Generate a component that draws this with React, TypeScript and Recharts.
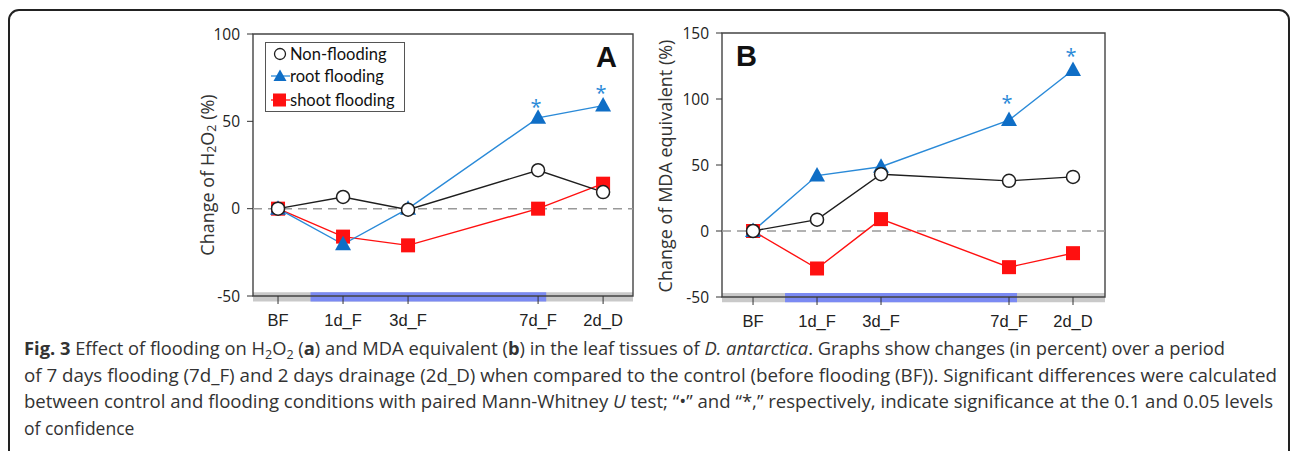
import React from 'react'
import { ComposedChart, Line, XAxis, YAxis, ReferenceLine, ReferenceArea, Legend } from 'recharts'

// sampling stages and their position on the day axis
const stages = ['BF', '1d_F', '3d_F', '7d_F', '2d_D']
const stagePos = [-1, 1, 3, 7, 9]

// panel A: change of H2O2 (%)
const h2o2Non = [0, 6.7, -0.6, 22, 9.5]
const h2o2Root = [0, -20.4, 0, 52, 59]
const h2o2Shoot = [0, -16, -21, 0, 14.3]
const h2o2Star = [null, null, null, 60, 68]
const h2o2Ticks = [-50, 0, 50, 100]

// panel B: change of MDA equivalent (%)
const mdaNon = [0, 8.6, 43, 38, 41]
const mdaRoot = [0, 42, 48.7, 84, 122]
const mdaShoot = [0, -28.4, 9, -27.4, -16.8]
const mdaStar = [null, null, null, 99, 135]
const mdaTicks = [-50, 0, 50, 100, 150]

// flooding period (blue band on the x axis)
const floodSpan = [0, 7.25]

const seriesNames = ['Non-flooding', 'root flooding', 'shoot flooding']

const BLACK = '#1e1e1e'
const BLUE_LINE = '#2a8ad8'
const BLUE = '#0f6ec6'
const RED = '#ff1010'

const makeRows = (non, root, shoot, star) =>
  stagePos.map((x, i) => ({ x, stage: stages[i], non: non[i], root: root[i], shoot: shoot[i], star: star[i] }))

const h2o2Rows = makeRows(h2o2Non, h2o2Root, h2o2Shoot, h2o2Star)
const mdaRows = makeRows(mdaNon, mdaRoot, mdaShoot, mdaStar)

const stageLabel = (v) => stages[stagePos.indexOf(v)] ?? ''

const CircleDot = (p) =>
  p.cy == null ? <g key={`c${p.index}`} /> : (
    <circle key={`c${p.index}`} cx={p.cx} cy={p.cy} r={6.5} fill="#fff" stroke={BLACK} strokeWidth={1.5} />
  )

const TriDot = (p) =>
  p.cy == null ? <g key={`t${p.index}`} /> : (
    <path key={`t${p.index}`} d={`M${p.cx},${p.cy - 8.5} L${p.cx + 8},${p.cy + 6} L${p.cx - 8},${p.cy + 6} Z`} fill={BLUE} />
  )

const SquareDot = (p) =>
  p.cy == null ? <g key={`s${p.index}`} /> : (
    <rect key={`s${p.index}`} x={p.cx - 7} y={p.cy - 7} width={14} height={14} fill={RED} />
  )

const StarDot = (p) =>
  p.cy == null ? <g key={`a${p.index}`} /> : (
    <text key={`a${p.index}`} x={p.cx - 2} y={p.cy + 10} textAnchor="middle" fontSize={20} fontFamily="Open Sans" fill={BLUE_LINE}>*</text>
  )

// x tick: stage name under the day position
const StageTick = ({ x, y, payload }) => (
  <text x={x} y={y + 18} textAnchor="middle" fontFamily="Liberation Sans" fontSize={16.5} fill="#222">
    {stageLabel(payload.value)}
  </text>
)

const ValueTick = ({ x, y, payload }) => (
  <text x={x} y={y + 5.5} textAnchor="end" fontFamily="Open Sans" fontSize={15.5} fill="#222">
    {payload.value}
  </text>
)

const LegendBox = () => {
  const icons = [
    <circle cx={12} cy={8} r={5.5} fill="#fff" stroke={BLACK} strokeWidth={1.3} />,
    <g>
      <line x1={3} x2={22} y1={8} y2={8} stroke={BLUE_LINE} strokeWidth={1.3} />
      <path d="M12,1.5 L18.5,13 L5.5,13 Z" fill={BLUE} />
    </g>,
    <g>
      <line x1={3} x2={22} y1={8} y2={8} stroke={RED} strokeWidth={1.3} />
      <rect x={5} y={1.5} width={13} height={13} fill={RED} />
    </g>,
  ]
  const rowY = [11, 33, 57]
  return (
    <div style={{ position: 'relative', width: 140, height: 70, boxSizing: 'border-box', border: '1.5px solid #555', background: '#fff' }}>
      {seriesNames.map((n, i) => (
        <div key={n} style={{ position: 'absolute', left: 2, top: rowY[i] - 10, height: 20, display: 'flex', alignItems: 'center' }}>
          <svg width={22} height={16} style={{ overflow: 'visible' }}>{icons[i]}</svg>
          <span style={{ fontFamily: 'Lato', fontSize: 16.5, color: '#111', whiteSpace: 'nowrap' }}>{n}</span>
        </div>
      ))}
    </div>
  )
}

function Panel({ rows, xDomain, yDomain, yTicks, bandY, width, margin, left, yLabel, legend }) {
  return (
    <div style={{ position: 'absolute', left, top: 20 }}>
      <ComposedChart width={width} height={330} data={rows} margin={margin}>
        <XAxis
          dataKey="x"
          type="number"
          domain={xDomain}
          ticks={stagePos}
          axisLine={false}
          tickSize={8}
          tickMargin={4}
          height={30}
          stroke="#333"
          tick={StageTick}
          interval={0}
        />
        <YAxis
          type="number"
          domain={yDomain}
          ticks={yTicks}
          axisLine={false}
          tickSize={6}
          tickMargin={7}
          width={40}
          stroke="#333"
          tick={ValueTick}
          interval={0}
          label={{ content: () => yLabel }}
        />
        <ReferenceArea x1={xDomain[0]} x2={xDomain[1]} y1={bandY[0]} y2={bandY[1]} fill="#c9c9c9" fillOpacity={1} stroke="none" ifOverflow="visible" />
        <ReferenceArea x1={floodSpan[0]} x2={floodSpan[1]} y1={bandY[0]} y2={bandY[1]} fill="#7484f6" fillOpacity={0.92} stroke="none" ifOverflow="visible" />
        <ReferenceArea x1={xDomain[0]} x2={xDomain[1]} y1={yDomain[0]} y2={yDomain[1]} fill="none" fillOpacity={0} stroke="#444" strokeWidth={1.4} ifOverflow="visible" />
        <ReferenceLine y={0} stroke="#999" strokeWidth={1.5} strokeDasharray="9 6" />
        {legend && (
          <Legend
            layout="vertical"
            align="center"
            verticalAlign="middle"
            content={() => <LegendBox />}
            wrapperStyle={{ left: 85, top: 22, width: 140, height: 70 }}
          />
        )}
        <Line dataKey="shoot" name={seriesNames[2]} stroke={RED} strokeWidth={1.4} dot={SquareDot} isAnimationActive={false} />
        <Line dataKey="root" name={seriesNames[1]} stroke={BLUE_LINE} strokeWidth={1.4} dot={TriDot} isAnimationActive={false} />
        <Line dataKey="non" name={seriesNames[0]} stroke={BLACK} strokeWidth={1.4} dot={CircleDot} isAnimationActive={false} />
        <Line dataKey="star" stroke="none" legendType="none" dot={StarDot} isAnimationActive={false} />
      </ComposedChart>
    </div>
  )
}

const labelStyle = { fontFamily: 'Open Sans', fontSize: 18, fill: '#333' }

const h2o2Label = (
  <text transform="translate(27,155) rotate(-90)" textAnchor="middle" dominantBaseline="central" {...labelStyle}>
    Change of H<tspan dy={4} fontSize={12.5}>2</tspan><tspan dy={-4}>O</tspan><tspan dy={4} fontSize={12.5}>2</tspan><tspan dy={-4}> (%)</tspan>
  </text>
)

const mdaLabel = (
  <text transform="translate(25,146) rotate(-90)" textAnchor="middle" dominantBaseline="central" {...labelStyle}>
    Change of MDA equivalent (%)
  </text>
)

export default function App() {
  return (
    <div style={{ position: 'absolute', left: 0, top: 0, width: 1292, height: 451, overflow: 'hidden', background: '#fff' }}>
      <div style={{ position: 'absolute', left: 8, top: 9, width: 1282, height: 470, boxSizing: 'border-box', border: '2px solid #222', borderRadius: 11 }} />
      <Panel
        rows={h2o2Rows}
        xDomain={[-1.77, 9.92]}
        yDomain={[-50, 100]}
        yTicks={h2o2Ticks}
        bandY={[-47.8, -53.2]}
        width={470}
        margin={{ top: 14, right: 17, bottom: 24, left: 33 }}
        left={180}
        yLabel={h2o2Label}
        legend
      />
      <Panel
        rows={mdaRows}
        xDomain={[-1.97, 10]}
        yDomain={[-50, 150]}
        yTicks={mdaTicks}
        bandY={[-47, -54]}
        width={480}
        margin={{ top: 13, right: 15, bottom: 23, left: 42 }}
        left={640}
        yLabel={mdaLabel}
      />
      <div style={{ position: 'absolute', left: 596, top: 39, fontFamily: 'Liberation Sans', fontWeight: 'bold', fontSize: 29, lineHeight: '36px', color: '#111' }}>A</div>
      <div style={{ position: 'absolute', left: 736, top: 38, fontFamily: 'Liberation Sans', fontWeight: 'bold', fontSize: 29, lineHeight: '36px', color: '#111' }}>B</div>
      <svg style={{ position: 'absolute', left: 0, top: 330 }} width={1292} height={121} fontFamily="Open Sans" fontSize={17.5} fill="#333">
        <text x={24} y={25} textLength={1201} lengthAdjust="spacingAndGlyphs">
          <tspan fontWeight="bold">Fig. 3</tspan>
          {' Effect of flooding on H'}<tspan dy={4} fontSize={12}>2</tspan><tspan dy={-4}>O</tspan><tspan dy={4} fontSize={12}>2</tspan>
          <tspan dy={-4}>{' ('}</tspan><tspan fontWeight="bold">a</tspan>{') and MDA equivalent ('}<tspan fontWeight="bold">b</tspan>
          {') in the leaf tissues of '}<tspan fontStyle="italic">D. antarctica</tspan>{'. Graphs show changes (in percent) over a period'}
        </text>
        <text x={24} y={51.5} textLength={1253} lengthAdjust="spacingAndGlyphs">
          of 7 days flooding (7d_F) and 2 days drainage (2d_D) when compared to the control (before flooding (BF)). Significant differences were calculated
        </text>
        <text x={24} y={78} textLength={1249} lengthAdjust="spacingAndGlyphs">
          {'between control and flooding conditions with paired Mann-Whitney '}<tspan fontStyle="italic">U</tspan>
          {' test; \u201c\u2022\u201d and \u201c*,\u201d respectively, indicate significance at the 0.1 and 0.05 levels'}
        </text>
        <text x={24} y={104.5}>of confidence</text>
      </svg>
    </div>
  )
}
